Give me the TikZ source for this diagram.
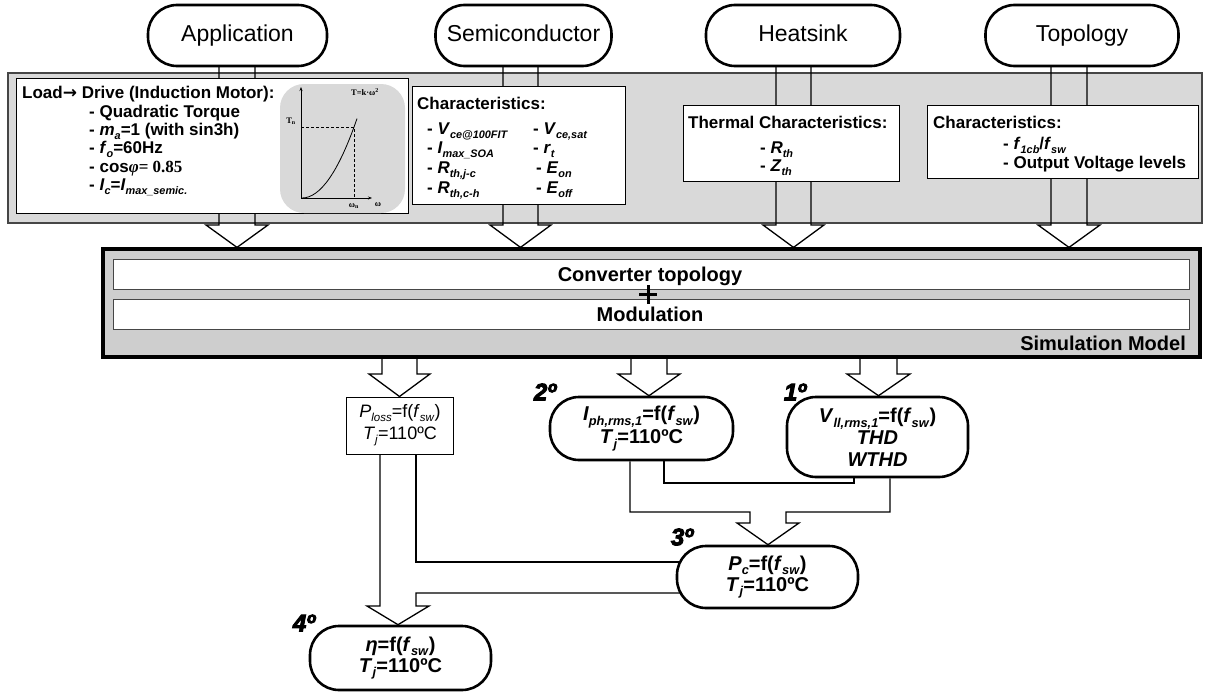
\documentclass[tikz,border=0pt]{standalone}
\usepackage{fontspec}
\setmainfont{Liberation Sans}
\newfontfamily\serifb{Liberation Serif}
\newfontfamily\dejavu{DejaVu Sans}
\newfontfamily\heavy[FakeBold=4]{Liberation Sans}
\usetikzlibrary{fit,arrows.meta}
\pgfdeclarelayer{bg}
\pgfdeclarelayer{mid}
\pgfsetlayers{bg,mid,main}
\definecolor{panelgray}{RGB}{217,217,217}
\definecolor{simgray}{RGB}{206,206,206}
\definecolor{edgegray}{RGB}{70,70,70}
\makeatletter
\newcommand{\isb}[2]{\textit{#1}\raisebox{-0.24em}{\fontsize{\fpeval{0.64*\f@size}}{1}\selectfont\textit{#2}}}
\makeatother
\newcommand{\barrow}[6]{\draw[shaft] (#1,0 |- #4) -- (#1,#5) -- ({#1-13},#5) -- (#3,0 |- #6) -- ({#2+13},#5) -- (#2,#5) -- (#2,0 |- #4);}
\begin{document}
\begin{tikzpicture}[x=1pt,y=-1pt,
  shaft/.style={line width=1.3pt, line join=miter},
  oval/.style={draw, line width=2.6pt, rounded corners=29pt, fill=white, minimum height=61pt, inner sep=0pt, text height=17pt, text depth=5pt, font=\fontsize{23}{26}\selectfont},
  res/.style={draw, line width=2.6pt, rounded corners=29pt, fill=white, inner sep=0pt, align=center, font=\fontsize{20}{21}\selectfont\bfseries},
  panel/.style={draw=black, line width=1pt, fill=white, inner sep=0pt},
  lbl/.style={inner sep=0pt, anchor=base west, font=\fontsize{17}{20}\selectfont\bfseries},
  simtxt/.style={inner sep=0pt, font=\fontsize{20}{22}\selectfont\bfseries},
  ord/.style={inner sep=0pt, font=\heavy\bfseries\itshape\fontsize{24}{26}\selectfont},
  glbl/.style={inner sep=0pt, font=\serifb\bfseries\fontsize{8.5}{9}\selectfont}]
\useasboundingbox (0,0) rectangle (1210,693);

% input gray panel
\begin{pgfonlayer}{bg}
\node[fit={(8,73) (1202,223)}, inner sep=0pt, draw=edgegray, line width=1.2pt, fill=panelgray] (inp) {};
\end{pgfonlayer}

% top ovals
\node[oval, minimum width=179pt] (app) at (237.5,35.5) {Application};
\node[oval, minimum width=176pt] (sem) at (523.5,35.5) {Semiconductor};
\node[oval, minimum width=194pt] (heat) at (803,35.5) {Heatsink};
\node[oval, minimum width=193pt] (topo) at (1082,35.5) {Topology};

% white boxes
\node[panel, fit={(16,79) (408,213)}] (appbox) {};
\node[panel, fit={(412,86) (625,204)}] (sembox) {};
\node[panel, fit={(683,105) (899,181)}] (heatbox) {};
\node[panel, fit={(927,105) (1198,178)}] (topobox) {};

% application texts
\node[lbl] (a1) at (22,98) {Load{\dejavu\bfseries →} Drive (Induction Motor):};
\node[lbl] (a2) at (89,117) {- Quadratic Torque};
\node[lbl] (a3) at (89,135) {- \isb{m}{a}=1 (with sin3h)};
\node[lbl] (a4) at (89,153) {- \isb{f}{o}=60Hz};
\node[lbl] (a5) at (89,172) {- cos{\serifb\itshape φ}{\serifb\bfseries= 0.85}};
\node[lbl] (a6) at (89,190) {- \isb{I}{c}=\isb{I}{max\_semic.}};

% torque graph
\fill[panelgray, rounded corners=24pt] (280,84) rectangle (405,213);
\draw[line width=0.8pt, -{Stealth[length=4pt,width=3pt]}] (301,198) -- (301,87);
\draw[line width=0.8pt, -{Stealth[length=4pt,width=3pt]}] (301,198) -- (372,198);
\draw[line width=0.9pt, dash pattern=on 3pt off 2pt] (301,127) -- (354,127) -- (354,198);
\draw[line width=0.8pt] (302,198) .. controls (320.3,198) and (338.7,171.6) .. (357,118.6);
\node[glbl] (tn) at (291,121) {T\textsubscript{n}};
\node[glbl] (tk) at (365,92) {T=k·ω\textsuperscript{2}};
\node[glbl] (wn) at (354,206) {ω\textsubscript{n}};
\node[glbl] (w) at (378,205) {ω};

% semiconductor texts
\node[lbl] (s0) at (417,109) {Characteristics:};
\node[lbl] (s1) at (427,134) {- \isb{V}{ce@100FIT}};
\node[lbl] (s2) at (427,153) {- \isb{I}{max\_SOA}};
\node[lbl] (s3) at (427,173) {- \isb{R}{th,j-c}};
\node[lbl] (s4) at (427,193) {- \isb{R}{th,c-h}};
\node[lbl] (s5) at (533,134) {- \isb{V}{ce,sat}};
\node[lbl] (s6) at (533,153) {- \isb{r}{t}};
\node[lbl] (s7) at (536,173) {- \isb{E}{on}};
\node[lbl] (s8) at (536,193) {- \isb{E}{off}};

% heatsink texts
\node[lbl] (h0) at (688,128) {Thermal Characteristics:};
\node[lbl] (h1) at (760,153) {- \isb{R}{th}};
\node[lbl] (h2) at (760,171) {- \isb{Z}{th}};

% topology texts
\node[lbl] (t0) at (933,128) {Characteristics:};
\node[lbl] (t1) at (1003,149) {- \isb{f}{1cb}/\isb{f}{sw}};
\node[lbl] (t2) at (1003,168) {- Output Voltage levels};

% simulation model
\node[fit={(103,249) (1200,357)}, inner sep=0pt, draw, line width=3.2pt, fill=simgray] (sim) {};
\node[panel, draw=edgegray, line width=0.9pt, fit={(113,259) (1189,289)}] (bar1) {};
\node[panel, draw=edgegray, line width=0.9pt, fit={(113,299) (1189,329)}] (bar2) {};
\node[simtxt, anchor=base] (conv) at (650,281) {Converter topology};
\draw[line width=3pt] (639,294.5) -- (657,294.5) (648,285) -- (648,304);
\node[simtxt, anchor=base] (modu) at (650,321) {Modulation};
\node[simtxt, anchor=base east] (simlbl) at (1186,350) {Simulation Model};

% result nodes
\node[draw, line width=1pt, fill=white, inner sep=0pt, minimum width=107pt, minimum height=57pt, align=center, font=\fontsize{18}{22}\selectfont] (ploss) at (400,425.5) {\isb{P}{loss}=f(\isb{f}{sw})\\\isb{T}{j}=110ºC};
\node[res, minimum width=183pt, minimum height=63pt] (n2) at (641.5,428.5) {\isb{I}{ph,rms,1}=f(\isb{f}{sw})\\\isb{T}{j}=110ºC};
\node[res, minimum width=181pt, minimum height=80pt, font=\fontsize{20}{22}\selectfont\bfseries] (n1) at (877.5,437) {\isb{V}{ll,rms,1}=f(\isb{f}{sw})\\\textit{THD}\\\textit{WTHD}};
\node[res, minimum width=181pt, minimum height=62pt] (pc) at (767.5,577) {\isb{P}{c}=f(\isb{f}{sw})\\\isb{T}{j}=110ºC};
\node[res, minimum width=181pt, minimum height=64pt] (eta) at (400.5,658) {\textit{η}=f(\isb{f}{sw})\\\isb{T}{j}=110ºC};

% order labels
\node[ord] (o1) at (795,392) {1º};
\node[ord] (o2) at (545,392) {2º};
\node[ord] (o3) at (682,537) {3º};
\node[ord] (o4) at (304,623) {4º};

% connectors
\begin{pgfonlayer}{mid}
\barrow{219}{255}{237}{app.center}{225}{sim.north}
\barrow{503}{538}{520.5}{sem.center}{225}{sim.north}
\barrow{776}{811}{793.5}{heat.center}{225}{sim.north}
\barrow{1051}{1087}{1069}{topo.center}{225}{sim.north}
\barrow{382}{417}{399.5}{sim.south}{374}{ploss.north}
\barrow{631}{667}{649}{sim.south}{374}{n2.north}
\barrow{860}{897}{878.5}{sim.south}{374}{n1.north}
\draw[shaft] (630,0 |- n2.south) -- (630,512) -- (750,512) -- (750,523) -- (737,523) -- (768,0 |- pc.north) -- (799,523) -- (786,523) -- (786,512) -- (890,512) -- (890,0 |- n1.south);
\draw[shaft] (664,0 |- n2.south) -- (664,483) -- (854,483) -- (854,0 |- n1.south);
\draw[shaft] (416,0 |- ploss.south) -- (416,562) -- (pc.center |- 0,562);
\draw[shaft] (380,0 |- ploss.south) -- (380,606) -- (367,606) -- (398,0 |- eta.north) -- (429,606) -- (416,606) -- (416,593) -- (pc.center |- 0,593);
\end{pgfonlayer}
\end{tikzpicture}
\end{document}
